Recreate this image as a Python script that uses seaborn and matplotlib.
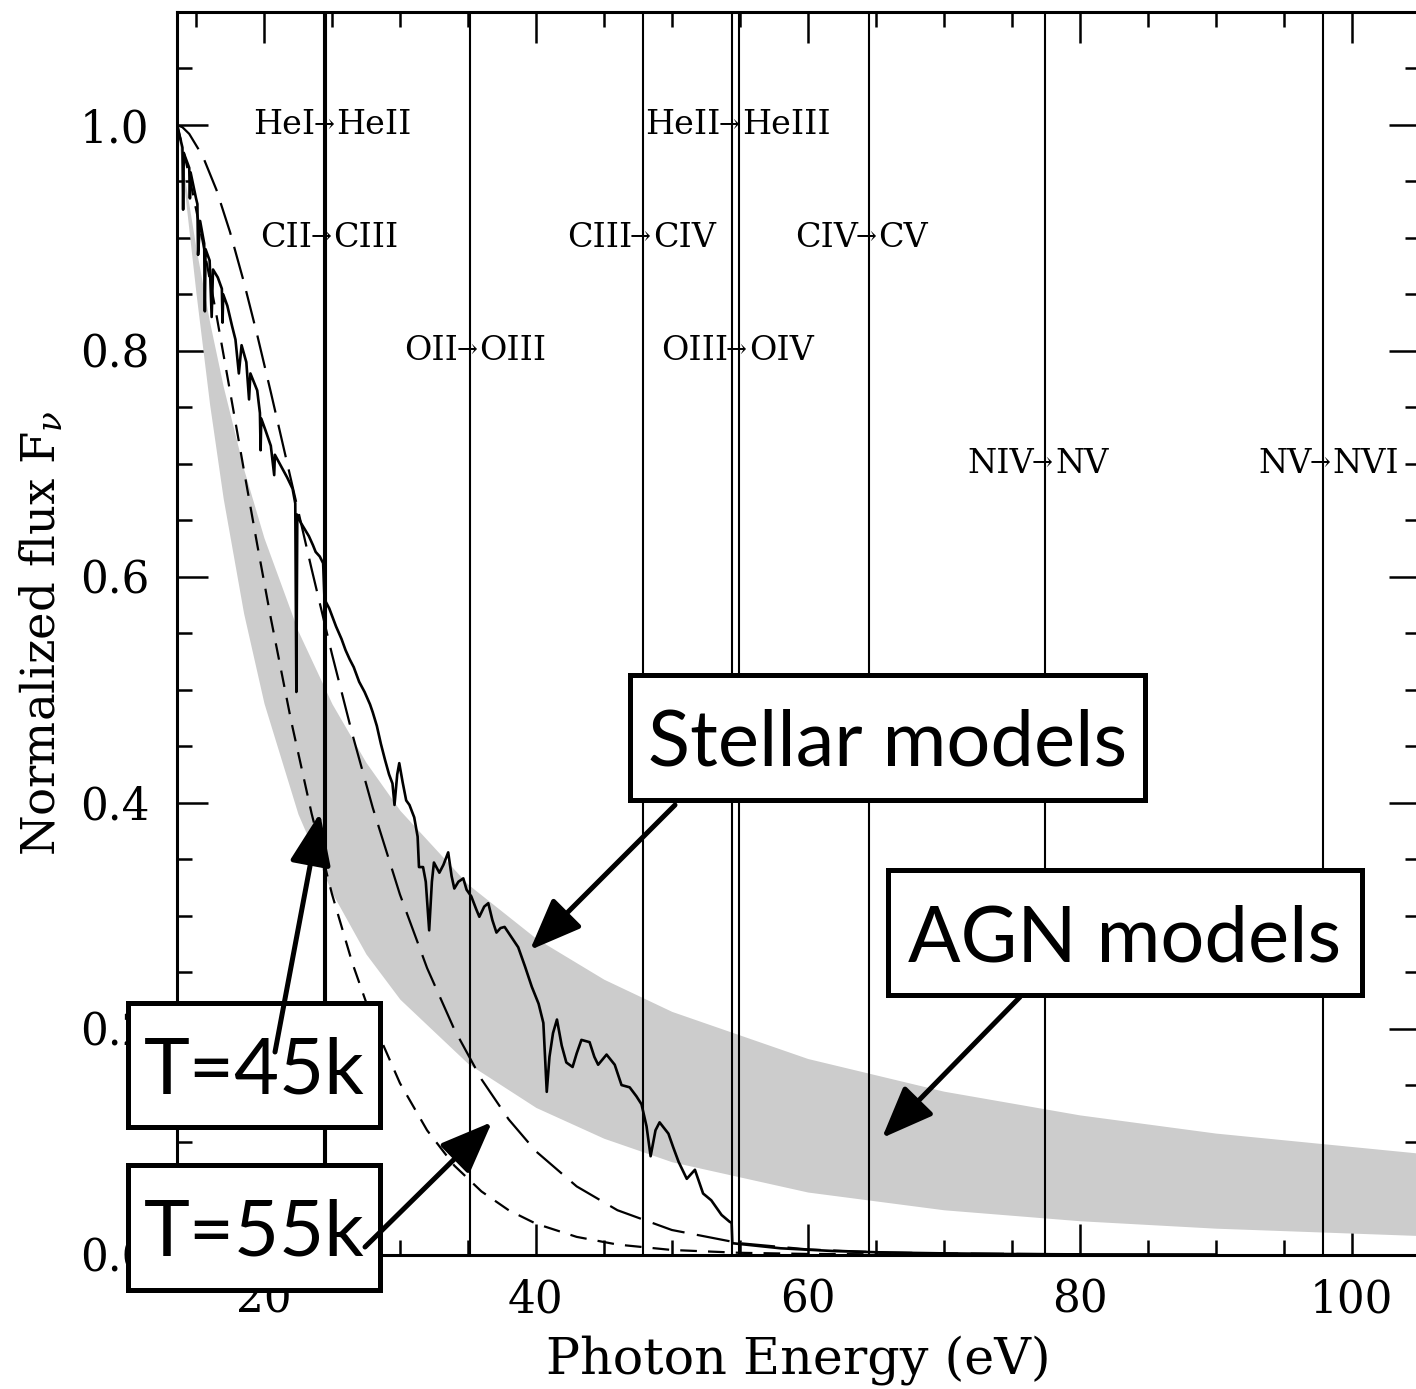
import matplotlib
matplotlib.use("Agg")
import matplotlib.pyplot as plt
import seaborn as sns
from matplotlib.patches import Rectangle, FancyArrowPatch
from matplotlib.ticker import MultipleLocator, FixedLocator

# ---------------- data ----------------
# ionisation thresholds (eV) drawn as vertical lines
edge_energy = [24.38, 24.59, 35.12, 47.89, 54.42, 54.94, 64.49, 77.47, 97.89]
label_from = ["CII", "HeI", "OII", "CIII", "HeII", "OIII", "CIV", "NIV", "NV"]
label_to = ["CIII", "HeII", "OIII", "CIV", "HeIII", "OIV", "CV", "NV", "NVI"]
label_y = [0.9, 1.0, 0.8, 0.9, 1.0, 0.8, 0.9, 0.7, 0.7]

# AGN band (grey)
agn_energy = [13.6, 14.2, 15, 16, 17, 18.5, 20, 22.5, 25, 27.5, 30, 35, 40, 45,
              50, 60, 70, 80, 90, 105]
agn_upper = [1.0, 0.9503, 0.8908, 0.8255, 0.7685, 0.6955, 0.6344, 0.5521, 0.4876,
             0.4357, 0.3932, 0.3278, 0.2800, 0.2437, 0.2152, 0.1735, 0.1446,
             0.1236, 0.1075, 0.0897]
agn_lower = [1.0, 0.937, 0.8507, 0.7525, 0.6692, 0.5677, 0.488, 0.390, 0.3203,
             0.2661, 0.226, 0.1691, 0.1302, 0.1029, 0.0821, 0.0553, 0.0396,
             0.0299, 0.0233, 0.0168]

# blackbody-like stellar curves (dashed)
bb_energy = [13.6, 14.0, 14.5, 15.5, 16.5, 17.5, 18.5, 19.5, 20.5, 22, 23.5, 25,
             26.5, 28, 30, 32, 34, 36, 38, 40, 43, 46, 50, 55, 60, 65, 70, 80]
bb45_flux = [1.0, 0.981, 0.9548, 0.8962, 0.8318, 0.7643, 0.6959, 0.6286, 0.5634,
             0.4722, 0.3905, 0.3191, 0.2580, 0.2066, 0.1517, 0.1099, 0.0787,
             0.0558, 0.0392, 0.0273, 0.0156, 0.0088, 0.0040, 0.0015, 0.0005,
             0.0002, 0.0001, 0.0]
bb55_flux = [1.0, 0.998, 0.9921, 0.9722, 0.9426, 0.9052, 0.8618, 0.8141, 0.7635,
             0.6852, 0.6070, 0.5315, 0.4606, 0.3955, 0.3187, 0.2535, 0.1993,
             0.1551, 0.1196, 0.0914, 0.0603, 0.0392, 0.0217, 0.0100, 0.0045,
             0.0020, 0.0009, 0.0002]

# stellar atmosphere model spectrum (solid)
star_energy = [13.60, 13.62, 13.8, 14.0, 14.05, 14.1, 14.5, 14.55, 14.6, 15.0, 15.1,
               15.15, 15.3, 15.6, 15.65, 15.7, 16.0, 16.15, 16.25, 16.6, 16.9,
               16.95, 17.0, 17.3, 17.65, 17.9, 18.15, 18.35, 18.7, 18.9, 19.0,
               19.5, 19.7, 19.75, 19.8, 20.1, 20.5, 20.75, 20.8, 21.3, 21.7, 22.1,
               22.3, 22.38, 22.45, 22.7, 23.0, 23.3, 23.6, 23.8, 24.1, 24.35, 24.45,
               24.8, 25.3, 25.7, 26.0, 26.3, 26.6, 27.0, 27.4, 27.8, 28.0, 28.3,
               28.6, 28.9, 29.2, 29.45, 29.6, 29.8, 29.95, 30.2, 30.46, 30.7, 31.05,
               31.3, 31.4, 31.7, 31.9, 32.15, 32.35, 32.5, 32.9, 33.2, 33.55, 33.8,
               34.0, 34.3, 34.66, 34.9, 35.25, 35.6, 35.84, 36.2, 36.5, 36.8, 37.1,
               37.4, 37.7, 38.2, 38.7, 39.2, 39.7, 40.2, 40.55, 40.8, 41.0, 41.26,
               41.55, 41.9, 42.24, 42.7, 43.0, 43.35, 43.95, 44.3, 44.58, 45.2,
               45.8, 46.3, 46.9, 47.4, 47.77, 48.14, 48.44, 48.8, 49.1, 49.75, 50.1,
               50.5, 51.1, 51.7, 52.3, 52.9, 53.66, 54.25, 54.40, 54.45, 56.0, 58.0,
               62.0, 66.0, 70.0, 75.0, 80.0, 90.0]
star_flux = [0.905, 1.0, 0.990, 0.980, 0.925, 0.975, 0.962, 0.935, 0.958, 0.935,
             0.93, 0.885, 0.915, 0.895, 0.835, 0.89, 0.880, 0.830, 0.872, 0.865,
             0.855, 0.825, 0.850, 0.840, 0.822, 0.810, 0.780, 0.805, 0.790, 0.757,
             0.78, 0.765, 0.745, 0.712, 0.74, 0.730, 0.716, 0.690, 0.708, 0.697,
             0.688, 0.678, 0.665, 0.498, 0.655, 0.648, 0.642, 0.636, 0.628, 0.622,
             0.618, 0.612, 0.580, 0.572, 0.556, 0.545, 0.535, 0.527, 0.520, 0.507,
             0.498, 0.487, 0.480, 0.468, 0.452, 0.438, 0.425, 0.417, 0.398, 0.425,
             0.435, 0.418, 0.402, 0.398, 0.387, 0.370, 0.343, 0.343, 0.33, 0.287,
             0.33, 0.347, 0.338, 0.345, 0.356, 0.335, 0.324, 0.33, 0.333, 0.323,
             0.317, 0.306, 0.299, 0.308, 0.311, 0.296, 0.285, 0.289, 0.290, 0.281,
             0.272, 0.255, 0.237, 0.222, 0.205, 0.144, 0.175, 0.196, 0.208, 0.185,
             0.170, 0.166, 0.178, 0.190, 0.188, 0.175, 0.168, 0.177, 0.168, 0.150,
             0.148, 0.140, 0.133, 0.1135, 0.087, 0.110, 0.117, 0.107, 0.095, 0.082,
             0.067, 0.075, 0.054, 0.048, 0.035, 0.029, 0.028, 0.010, 0.008, 0.0055,
             0.003, 0.0017, 0.001, 0.0004, 0.0001, 0.0]

x_major = [20, 40, 60, 80, 100]
y_major = [0.0, 0.2, 0.4, 0.6, 0.8, 1.0]

# annotation boxes: text, box (x0, y0, x1, y1) in figure pixels, arrow tail, arrow tip
boxes = [
    ("Stellar models", (630, 675, 1145, 800), (675, 805), (530, 950)),
    ("AGN models", (888, 870, 1362, 995), (1020, 997), (882, 1138)),
    ("T=45k", (128, 1003, 380, 1127), (275, 1052), (320, 813)),
    ("T=55k", (128, 1165, 380, 1290), (365, 1247), (492, 1122)),
]

# ---------------- figure ----------------
W, H = 1416, 1389
sns.set_theme(style="ticks")
plt.rcParams["font.family"] = ["DejaVu Serif"]
plt.rcParams["mathtext.fontset"] = "dejavuserif"
plt.rcParams["lines.scale_dashes"] = False

fig = plt.figure(figsize=(W / 100, H / 100), dpi=100)
fig.patch.set_facecolor("white")
ax_left, ax_right, ax_top, ax_bottom = 177, 1419.5, 12, 1254.5
ax = fig.add_axes([ax_left / W, 1 - ax_bottom / H, (ax_right - ax_left) / W,
                   (ax_bottom - ax_top) / H])
ax.set_facecolor("white")

ax.fill_between(agn_energy, agn_lower, agn_upper, color="#cccccc", lw=0, zorder=1)

for e in edge_energy:
    ax.axvline(e, color="black", lw=1.5, zorder=2)

sns.lineplot(x=bb_energy, y=bb55_flux, ax=ax, color="black", lw=1.6,
             estimator=None, sort=False, zorder=3)
ax.lines[-1].set_dashes([24, 9])
sns.lineplot(x=bb_energy, y=bb45_flux, ax=ax, color="black", lw=1.6,
             estimator=None, sort=False, zorder=3)
ax.lines[-1].set_dashes([12, 8])
sns.lineplot(x=star_energy, y=star_flux, ax=ax, color="black", lw=1.9,
             estimator=None, sort=False, zorder=4)

for lf, lt, e, y in zip(label_from, label_to, edge_energy, label_y):
    ax.annotate(lf, xy=(e, y), xytext=(-8, 0), textcoords="offset points",
                ha="right", va="center", fontsize=24, zorder=5, color="black")
    ax.annotate("\u2192", xy=(e, y), xytext=(-2, 0), textcoords="offset points",
                ha="center", va="center", fontsize=18, zorder=5, color="black")
    ax.annotate(lt, xy=(e, y), xytext=(7, 0), textcoords="offset points",
                ha="left", va="center", fontsize=24, zorder=5, color="black")

ax.set_xlim(13.6, 13.6 + (ax_right - ax_left) / 13.594)
ax.set_ylim(0, 1.1)
ax.xaxis.set_major_locator(FixedLocator(x_major))
ax.xaxis.set_minor_locator(MultipleLocator(5))
ax.yaxis.set_major_locator(FixedLocator(y_major))
ax.yaxis.set_minor_locator(MultipleLocator(0.05))
ax.set_yticklabels([f"{v:.1f}" for v in y_major])
ax.set_xticklabels([str(v) for v in x_major])
ax.tick_params(which="both", direction="in", top=True, right=True, width=1.8,
               color="black", labelsize=31.5, labelcolor="black")
ax.tick_params(which="major", length=22, pad=20)
ax.tick_params(axis="x", which="major", pad=17)
ax.tick_params(which="minor", length=10.5)
for s in ax.spines.values():
    s.set_linewidth(2.2)
    s.set_color("black")
    s.set_visible(True)

ax.set_xlabel("Photon Energy (eV)", fontsize=36.5, labelpad=10, color="black")
ax.set_ylabel("Normalized flux F$_{\\nu}$", fontsize=33.5, labelpad=10, color="black")


def fx(px):
    return px / W


def fy(py):
    return 1 - py / H


for text, (x0, y0, x1, y1), tail, tip in boxes:
    rect = Rectangle((fx(x0), fy(y1)), fx(x1) - fx(x0), fy(y0) - fy(y1),
                     transform=fig.transFigure, facecolor="white",
                     edgecolor="black", lw=3.6, zorder=10)
    fig.add_artist(rect)
    fig.text(fx((x0 + x1) / 2), fy(y0 + 91), text, fontsize=56, family="Lato",
             ha="center", va="baseline", color="black", zorder=11)
    arr = FancyArrowPatch((fx(tail[0]), fy(tail[1])), (fx(tip[0]), fy(tip[1])),
                          transform=fig.transFigure,
                          arrowstyle="-|>,head_length=0.55,head_width=0.22",
                          mutation_scale=58, lw=3.6, color="black",
                          shrinkA=0, shrinkB=0, zorder=12)
    fig.add_artist(arr)

fig.savefig("out.png", dpi=100)
